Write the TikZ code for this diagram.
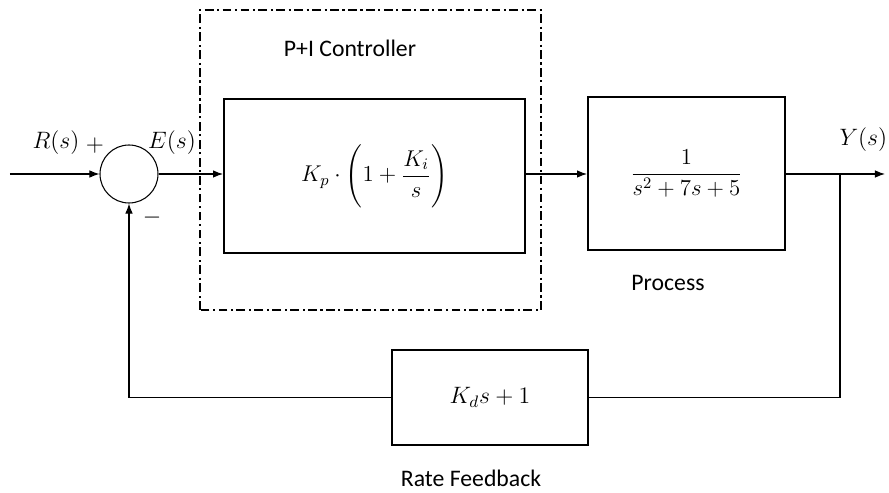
\RequirePackage{fix-cm}
\documentclass[tikz,border=0pt]{standalone}
\usepackage{amsmath}
\usepackage{fontspec}
\newfontfamily\capfont{Carlito}
\usepackage{tikz}
\usetikzlibrary{positioning, arrows, arrows.meta}

\tikzset{
  blk/.style={draw, line width=1.1pt, inner sep=0pt},
  captxt/.style={font=\capfont\fontsize{13.5}{16}\selectfont},
}

\begin{document}
\begin{tikzpicture}[>=Latex, line width=0.6pt, font=\fontsize{13.5}{16}\selectfont]
\useasboundingbox (0,0) rectangle (17.78,9.84);

% dash-dotted frame around the controller
\draw[line width=0.9pt, dash pattern=on 5pt off 2pt on 1.2pt off 2pt] (4.0,3.64) rectangle (10.82,9.64);
\node[captxt] (ctrlcap) at (7.0,8.88) {P+I Controller};

\node[draw, circle, minimum size=1.16cm] (sum) at (2.58,6.36) {};
\node[blk, minimum width=6.02cm, minimum height=3.08cm] (ctrl) at (7.49,6.32)
  {\fontsize{13}{16}\selectfont $\displaystyle K_p\cdot\Biggl(1+\frac{K_i}{s}\Biggr)$};
\node[blk, minimum width=3.94cm, minimum height=3.06cm] (proc) at (13.73,6.37)
  {\fontsize{13}{16}\selectfont $\displaystyle\frac{1}{s^2+7s+5}$};
\node[blk, minimum width=3.92cm, minimum height=1.9cm] (fb) at (9.8,1.89) {$K_d s+1$};

\coordinate (in)   at (0.2,6.36);
\coordinate (br)   at (16.8,6.36);
\coordinate (yout) at (17.7,6.36);

% forward path
\draw[->] (in) -- (sum);
\draw[->] (sum) -- (sum -| ctrl.west);
\draw[->] (sum -| ctrl.east) -- (sum -| proc.west);
\draw[->] (sum -| proc.east) -- (yout);

% feedback path
\draw (br) |- (fb);
\draw[->] (fb) -| (sum);

% signal labels
\node (rlbl)  at (1.12,6.98) {$R(s)$};
\node (plus)  at (1.9,6.92)  {$+$};
\node (elbl)  at (3.44,6.98) {$E(s)$};
\node (minus) at (3.04,5.48) {$-$};
\node[anchor=west, inner xsep=0pt] (ylbl) at (16.78,7.04) {$Y(s)$};

\node[captxt] (proccap) at (13.36,4.18) {Process};
\node[captxt] (fbcap)   at (9.42,0.28)  {Rate Feedback};
\end{tikzpicture}
\end{document}
